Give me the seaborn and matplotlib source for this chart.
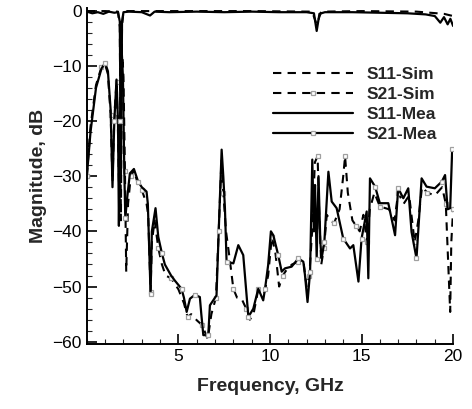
import matplotlib
matplotlib.use("Agg")
import matplotlib.pyplot as plt
import seaborn as sns
import pandas as pd
from matplotlib.ticker import MultipleLocator

# S11 (near 0 dB) - measured / simulated
s11_mea_f = [0, 0.3, 0.6, 0.9, 1.2, 1.5, 1.7, 1.8, 1.86, 1.92, 2.0, 2.3, 3.0, 3.45, 3.7, 4.5, 6.0,
             7.5, 9.0, 10.5, 12.0, 12.4, 12.55, 12.7, 13.0, 14.5, 16.0, 17.5, 18.5, 19.0, 19.3,
             19.5, 19.7, 19.85, 20.0]
s11_mea_db = [-0.2, -0.5, -0.3, -0.6, -0.2, -0.4, -0.3, -2, -30, -2, -0.3, -0.2, -0.3, -0.9, -0.2,
              -0.3, -0.2, -0.3, -0.2, -0.3, -0.3, -0.5, -3.7, -0.6, -0.3, -0.3, -0.4, -0.5, -0.7,
              -1.0, -2.2, -1.2, -2.5, -1.5, -2.8]
s11_sim_f = [0, 1.0, 1.7, 1.8, 1.86, 1.92, 2.0, 3.0, 6.0, 9.0, 12.3, 12.55, 12.8, 15.0, 18.0, 19.5, 20.0]
s11_sim_db = [-0.1, -0.1, -0.2, -3, -38, -3, -0.1, -0.1, -0.1, -0.1, -0.2, -2.5, -0.2, -0.1, -0.2,
              -0.6, -1.0]

# S21 (lower curves) - measured
s21_mea_f = [0.0, 0.2, 0.5, 0.8, 1.0, 1.15, 1.3, 1.4, 1.5, 1.62, 1.7, 1.75, 1.82, 1.9, 1.97, 2.05,
             2.1, 2.2, 2.35, 2.57, 2.8, 3.0, 3.26, 3.33, 3.48, 3.55, 3.75, 3.9, 4.1, 4.26, 4.6, 4.8,
             5.17, 5.3, 5.45, 5.63, 5.9, 6.17, 6.25, 6.36, 6.63, 6.72, 6.9, 7.08, 7.2, 7.36, 7.45,
             7.54, 7.63, 8.0, 8.27, 8.54, 8.82, 9.09, 9.36, 9.63, 9.73, 9.9, 10.05, 10.18, 10.45,
             10.64, 10.82, 11.18, 11.55, 11.82, 11.91, 12.05, 12.19, 12.31, 12.4, 12.46, 12.55,
             12.65, 12.75, 12.82, 12.97, 13.19, 13.37, 13.64, 14.0, 14.37, 14.55, 14.83, 15.0,
             15.28, 15.37, 15.46, 15.74, 16.0, 16.46, 16.83, 17.0, 17.28, 17.55, 17.73, 18.0,
             18.28, 18.55, 19.0, 19.38, 19.56, 19.7, 19.84, 19.95, 20.0]
s21_mea_db = [-30, -22, -14, -10.5, -9.5, -11, -18, -32, -20, -12.5, -20, -39, -20, -7, -12, -30,
              -37.6, -34, -29.5, -28.7, -31, -32, -32.8, -35, -51.3, -40, -35.8, -41, -44, -46,
              -48, -48.9, -50.4, -52, -54.6, -52.2, -51.5, -51.9, -55, -58.8, -58.8, -53.4, -52.5,
              -51.6, -40, -25.2, -30, -35.8, -45.5, -45.8, -42.5, -44.3, -55.5, -54.0, -50.4,
              -52.5, -50.4, -46.1, -40, -40.7, -44.3, -47.3, -46.7, -46.4, -44.9, -45.5, -47.9,
              -52.8, -47.3, -27.0, -40, -31.6, -45, -30, -42, -44.9, -41.9, -29.2, -34.6, -35.8,
              -41.3, -43.1, -42.5, -49.1, -41.3, -36.4, -48.5, -30.4, -31.9, -34.9, -34.9, -40.7,
              -32.2, -34.0, -32.2, -40.1, -44.9, -30.4, -31.9, -32.2, -31, -29.8, -36, -35.8,
              -25, -25]

# S21 (lower curves) - simulated
s21_sim_f = [0, 0.2, 0.5, 0.8, 1.0, 1.15, 1.3, 1.4, 1.5, 1.62, 1.7, 1.78, 1.85, 1.95, 2.0, 2.08,
             2.15, 2.25, 2.4, 2.57, 2.8, 3.0, 3.26, 3.35, 3.48, 3.55, 3.7, 3.9, 4.1, 4.3, 4.6, 5.0,
             5.3, 5.5, 5.7, 6.0, 6.3, 6.6, 6.8, 7.05, 7.2, 7.35, 7.45, 7.6, 7.8, 8.0, 8.2, 8.45,
             8.7, 8.9, 9.1, 9.36, 9.7, 9.9, 10.1, 10.3, 10.5, 10.7, 10.9, 11.2, 11.55, 11.85, 12.0,
             12.15, 12.3, 12.45, 12.6, 12.7, 12.8, 12.95, 13.1, 13.3, 13.5, 13.8, 14.0, 14.1,
             14.25, 14.5, 14.7, 14.9, 15.1, 15.3, 15.45, 15.7, 16.0, 16.5, 16.8, 17.0, 17.3, 17.6,
             17.9, 18.1, 18.3, 18.6, 19.0, 19.4, 19.6, 19.84, 19.9, 20.0]
s21_sim_db = [-30, -21, -13.5, -10.2, -9.8, -11.5, -19, -31, -19, -13, -22, -36, -15, -8.5, -12,
              -29, -47.3, -35, -30, -29, -31.5, -32.5, -35, -37, -51, -42, -38, -43, -46, -48,
              -48.5, -50.5, -53, -55.5, -55, -56.1, -57, -59.5, -55, -52, -40, -27, -33, -40, -45,
              -50.4, -52, -52.2, -54, -56, -55, -50.5, -51, -48, -41, -44, -50, -48, -47, -46,
              -45.5, -46, -50, -48, -40, -27.5, -26.4, -38, -46, -43, -37, -38, -38.5, -36, -30,
              -26.4, -33, -38, -39, -40, -37, -42, -36, -33, -35.5, -36, -38, -33, -35, -33.5,
              -42, -38, -32, -33, -33.5, -32, -35, -54.6, -42, -36]

sns.set_theme(style="ticks")
plt.rcParams['font.family'] = ['Liberation Sans', 'DejaVu Sans']

fig = plt.figure(figsize=(4.72, 4.09), dpi=100)
ax = fig.add_axes([0.184, 0.159, 0.776, 0.822])

mk = dict(marker='s', markersize=3.5, markerfacecolor='white', markeredgecolor='#a0a0a0',
          markeredgewidth=0.9)

sns.lineplot(x=s11_sim_f, y=s11_sim_db, ax=ax, color='black', lw=1.5, linestyle=(0, (4, 3)),
             sort=False, estimator=None, label='S11-Sim')
sns.lineplot(x=s21_sim_f, y=s21_sim_db, ax=ax, color='black', lw=1.5, linestyle=(0, (4, 3)),
             sort=False, estimator=None, markevery=3, label='S21-Sim', **mk)
sns.lineplot(x=s11_mea_f, y=s11_mea_db, ax=ax, color='black', lw=1.6,
             sort=False, estimator=None, label='S11-Mea')
sns.lineplot(x=s21_mea_f, y=s21_mea_db, ax=ax, color='black', lw=1.6,
             sort=False, estimator=None, markevery=4, label='S21-Mea', **mk)

ax.set_xlim(0, 20)
ax.set_ylim(-60.4, 0.5)
ax.set_xticks([5, 10, 15, 20])
ax.set_yticks([0, -10, -20, -30, -40, -50, -60])
ax.xaxis.set_minor_locator(MultipleLocator(1))
ax.yaxis.set_minor_locator(MultipleLocator(2))
ax.tick_params(which='major', direction='in', length=7, width=1.2, labelsize=12.5, colors='black')
ax.tick_params(which='minor', direction='in', length=3.5, width=0.8)
sns.despine(ax=ax)
for s in ['left', 'bottom']:
    ax.spines[s].set_linewidth(1.4)
    ax.spines[s].set_color('black')

ax.set_xlabel('Frequency, GHz', fontsize=14, fontweight='bold', labelpad=10)
ax.set_ylabel('Magnitude, dB', fontsize=14, fontweight='bold', labelpad=4)

leg = ax.legend(loc='upper left', bbox_to_anchor=(0.465, 0.872), frameon=False, handlelength=4.6,
                labelspacing=0.28, handletextpad=0.8, prop={'weight': 'bold', 'size': 12.5})

fig.savefig('out.png', dpi=100)
